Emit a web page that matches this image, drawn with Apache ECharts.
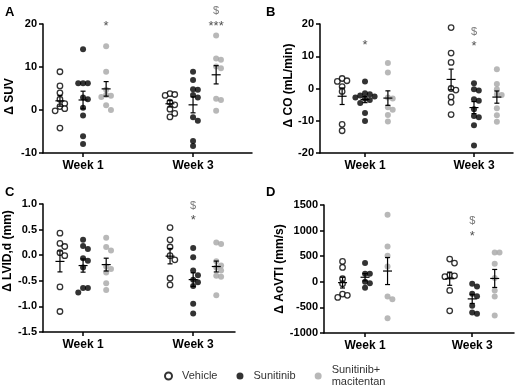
<!DOCTYPE html>
<html>
<head>
<meta charset="utf-8">
<script src="https://cdn.jsdelivr.net/npm/echarts@6/dist/echarts.min.js"></script>
<style>
html,body{margin:0;padding:0;background:#fff}
#main{width:522px;height:390px}
</style>
</head>
<body>
<div id="main"></div>
<script>
var weekNames = ['Week 1', 'Week 3'];
var groupNames = ['Vehicle', 'Sunitinib', 'Sunitinib+\nmacitentan'];

// A  - delta SUV, [week 1, week 3]
var suvVehicle = [[8.9, 5.6, 4.0, 2.5, 1.5, 0.8, 0.3, -0.2, -4.2], [3.8, 3.6, 3.4, 1.8, 1.2, 0.2, -0.8, -1.6]];
var suvSun = [[14.1, 6.2, 6.2, 6.2, 2.9, 2.5, 0.5, -1.3, -6.1, -7.9], [8.9, 7.0, 4.8, 4.7, 3.5, 2.9, -1.7, -2.5, -7.2, -8.4]];
var suvMac = [[14.8, 8.9, 4.7, 3.5, 3.3, 3.0, 1.1, 0.0], [17.3, 12.0, 11.7, 10.1, 9.7, 2.6, 2.3, -0.2]];
// B  - delta CO (mL/min)
var coVehicle = [[3.1, 2.4, 2.2, 0.6, -0.9, -11.1, -13.1], [18.9, 11.0, 8.1, 0.0, -0.5, -2.6, -4.3, -8.1]];
var coSun = [[2.2, -1.5, -1.8, -2.2, -2.5, -2.8, -3.2, -3.6, -4.5, -7.6, -10.1], [1.6, -0.2, -0.6, -3.3, -3.8, -6.4, -8.5, -8.9, -11.4, -17.7]];
var coMac = [[7.9, 5.0, -2.8, -3.1, -5.8, -6.6, -8.2, -10.2], [6.0, 1.4, -0.2, -1.8, -2.0, -6.1, -8.3, -10.3]];
// C  - delta LVID,d (mm)
var lvVehicle = [[0.43, 0.23, 0.17, 0.05, -0.01, -0.62, -1.10], [0.54, 0.30, 0.16, -0.01, -0.09, -0.45, -0.58]];
var lvSun = [[0.30, 0.18, 0.12, -0.06, -0.11, -0.24, -0.64, -0.64, -0.73], [0.14, -0.04, -0.30, -0.39, -0.48, -0.53, -0.60, -0.95, -1.14]];
var lvMac = [[0.34, 0.16, 0.09, -0.22, -0.27, -0.34, -0.55, -0.68], [0.25, 0.22, -0.12, -0.20, -0.24, -0.30, -0.40, -0.42, -0.78]];
// D  - delta AoVTI (mm/s)
var aoVehicle = [[397, 280, 60, -40, -240, -265, -306], [443, 365, 130, 117, 100, -169, -566]];
var aoSun = [[365, 156, 156, 0, -26, -117], [-39, -91, -234, -280, -469, -600, -625]];
var aoMac = [[1309, 690, 508, 300, -286, -339, -710], [573, 573, 352, 72, -169, -286, -658]];

// significance marks: [week, group, y, text]
var suvMarks = [[0, 2, 19.5, '*'], [1, 2, 19.5, '***'], [1, 2, 23, '$']];
var coMarks = [[0, 1, 13.3, '*'], [1, 1, 13, '*'], [1, 1, 17.6, '$']];
var lvMarks = [[1, 1, 0.67, '*'], [1, 1, 0.96, '$']];
var aoMarks = [[1, 1, 879, '*'], [1, 1, 1191, '$']];

var FONT = '"Liberation Sans", Arial, sans-serif';
var groupOffset = [-0.21, 0, 0.21];
var groupStyle = [
  {color: '#fff', borderColor: '#000', borderWidth: 1.3},
  {color: '#000'},
  {color: '#a6a6a6'}
];

// namePad shifts the rotated axis title along the axis (left pad = up, right pad = down)
var panels = [
  {letter: 'A', name: 'Δ SUV', data: [suvVehicle, suvSun, suvMac], marks: suvMarks,
   min: -10, max: 20, step: 10, dec: 0, xmin: 0.636, xmax: 2.536, gap: 27, namePad: [0, 16, 0, 0],
   grid: {left: 43, top: 24, width: 209, height: 129}, title: [0, 1]},
  {letter: 'B', name: 'Δ CO (mL/min)', data: [coVehicle, coSun, coMac], marks: coMarks,
   min: -20, max: 20, step: 10, dec: 0, xmin: 0.587, xmax: 2.358, gap: 21, namePad: [0, 0, 0, 6],
   grid: {left: 320, top: 24, width: 193, height: 129}, title: [261, 1]},
  {letter: 'C', name: 'Δ LVID,d (mm)', data: [lvVehicle, lvSun, lvMac], marks: lvMarks,
   min: -1.5, max: 1.0, step: 0.5, dec: 1, xmin: 0.636, xmax: 2.38, gap: 28, namePad: [0, 0, 0, 34],
   grid: {left: 43, top: 204, width: 192, height: 128}, title: [0, 181]},
  {letter: 'D', name: 'Δ AoVTI (mm/s)', data: [aoVehicle, aoSun, aoMac], marks: aoMarks,
   min: -1000, max: 1500, step: 500, dec: 0, xmin: 0.617, xmax: 2.39, gap: 30, namePad: [0, 0, 0, 0],
   grid: {left: 324, top: 205, width: 190, height: 128}, title: [261, 181]}
];

// spread overlapping dots sideways, like a column scatter
function swarm(vals, pxY) {
  var step = 4.8, minD = 4.8, placed = [], offs = [];
  var order = vals.map(function (v, i) { return i; }).sort(function (a, b) { return vals[b] - vals[a]; });
  order.forEach(function (i) {
    var y = vals[i] * pxY;
    for (var k = 0; k < 30; k++) {
      var o = k === 0 ? 0 : (k % 2 ? 1 : -1) * Math.ceil(k / 2) * step;
      var ok = placed.every(function (p) {
        var dx = o - p[0], dy = y - p[1];
        return dx * dx + dy * dy >= minD * minD - 0.01;
      });
      if (ok) { offs[i] = o; placed.push([o, y]); break; }
    }
  });
  return offs;
}

function meanSem(vals) {
  var n = vals.length, m = 0, s = 0;
  vals.forEach(function (v) { m += v; });
  m /= n;
  vals.forEach(function (v) { s += (v - m) * (v - m); });
  var sem = Math.sqrt(s / (n - 1)) / Math.sqrt(n);
  return [m, m - sem, m + sem];
}

function renderBar(params, api) {
  var x = api.value(0);
  var c = api.coord([x, api.value(1)]);
  var lo = api.coord([x, api.value(2)]);
  var hi = api.coord([x, api.value(3)]);
  var st = {stroke: '#000', lineWidth: 1.2};
  return {type: 'group', children: [
    {type: 'line', shape: {x1: c[0], y1: lo[1], x2: c[0], y2: hi[1]}, style: st},
    {type: 'line', shape: {x1: c[0] - 2.5, y1: lo[1], x2: c[0] + 2.5, y2: lo[1]}, style: st},
    {type: 'line', shape: {x1: c[0] - 2.5, y1: hi[1], x2: c[0] + 2.5, y2: hi[1]}, style: st},
    {type: 'line', shape: {x1: c[0] - 4.5, y1: c[1], x2: c[0] + 4.5, y2: c[1]}, style: st}
  ]};
}

var grids = [], xAxes = [], yAxes = [], series = [], titles = [];
var axisLine = {show: true, onZero: false, lineStyle: {color: '#000', width: 1.5}};
var tickStyle = {color: '#000', width: 1.5};

panels.forEach(function (p, i) {
  grids.push(p.grid);
  titles.push({text: p.letter, left: p.title[0], top: p.title[1],
    textStyle: {fontFamily: FONT, fontSize: 13, fontWeight: 'bold', color: '#000'}});
  xAxes.push({
    gridIndex: i, type: 'value', min: p.xmin, max: p.xmax,
    axisLine: axisLine, splitLine: {show: false},
    axisTick: {show: true, customValues: [1, 2], length: 4, lineStyle: tickStyle},
    axisLabel: {customValues: [1, 2], margin: 7, fontFamily: FONT, fontSize: 12, fontWeight: 'bold', color: '#000',
      formatter: function (v) { return weekNames[Math.round(v) - 1]; }}
  });
  yAxes.push({
    gridIndex: i, type: 'value', min: p.min, max: p.max, interval: p.step,
    name: p.name, nameLocation: 'middle', nameGap: p.gap,
    nameTextStyle: {fontFamily: FONT, fontSize: 12, fontWeight: 'bold', color: '#000', padding: p.namePad},
    axisLine: axisLine, splitLine: {show: false},
    axisTick: {show: true, length: 4, lineStyle: tickStyle},
    axisLabel: {margin: 6, fontFamily: FONT, fontSize: 11, fontWeight: 'bold', color: '#000',
      formatter: function (v) { return v.toFixed(p.dec); }}
  });

  var pxY = p.grid.height / (p.max - p.min);
  var pxX = p.grid.width / (p.xmax - p.xmin);
  var bars = [];
  p.data.forEach(function (weeks, g) {
    var pts = [];
    weeks.forEach(function (vals, w) {
      var cx = w + 1 + groupOffset[g];
      var offs = swarm(vals, pxY);
      vals.forEach(function (v, k) { pts.push([cx + offs[k] / pxX, v]); });
      var ms = meanSem(vals);
      bars.push([cx, ms[0], ms[1], ms[2]]);
    });
    series.push({
      type: 'scatter', name: groupNames[g], xAxisIndex: i, yAxisIndex: i,
      symbol: 'circle', symbolSize: g === 0 ? 5.5 : 6, itemStyle: groupStyle[g],
      data: pts, z: 2
    });
  });
  series.push({type: 'custom', xAxisIndex: i, yAxisIndex: i, renderItem: renderBar,
    data: bars, z: 5, silent: true});
  series.push({
    type: 'scatter', xAxisIndex: i, yAxisIndex: i, symbolSize: 1, clip: false, silent: true,
    itemStyle: {color: 'rgba(0,0,0,0)'},
    label: {show: true, position: 'inside', fontFamily: FONT,
      formatter: function (q) { return q.name; }},
    data: p.marks.map(function (m) {
      var isDollar = m[3] === '$';
      return {name: m[3], value: [m[0] + 1 + groupOffset[m[1]], m[2]],
        label: {fontSize: isDollar ? 11 : 13, color: isDollar ? '#555' : '#222'}};
    })
  });
});

var chart = echarts.init(document.getElementById('main'), null, {renderer: 'canvas'});
chart.setOption({
  animation: false,
  backgroundColor: '#fff',
  title: titles,
  grid: grids,
  xAxis: xAxes,
  yAxis: yAxes,
  legend: {
    data: groupNames.map(function (n) { return {name: n, icon: 'circle'}; }),
    left: 159, top: 359, itemWidth: 7, itemHeight: 7, itemGap: 19,
    textStyle: {fontFamily: FONT, fontSize: 11, color: '#333', lineHeight: 12, padding: [0, 0, 0, 5]}
  },
  series: series
});
</script>
</body>
</html>
